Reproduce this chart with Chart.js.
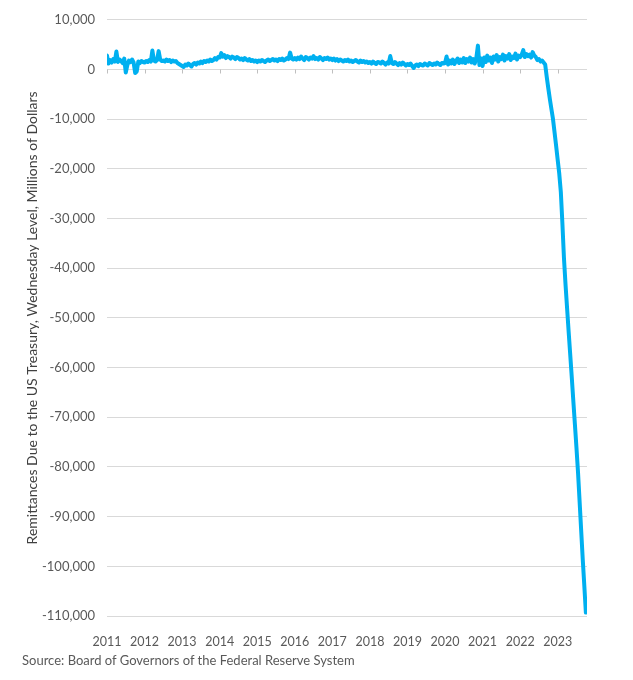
<!DOCTYPE html>
<html>
<head>
<meta charset="utf-8">
<script src="https://cdn.jsdelivr.net/npm/chart.js"></script>
<style>
  body { margin: 0; background: #fff; }
  #wrap { position: relative; width: 633px; height: 680px; }
  #source {
    position: absolute; left: 22px; top: 652px;
    font: 13px Lato, "Open Sans", sans-serif; color: #595959;
  }
</style>
</head>
<body>
<div id="wrap">
  <canvas id="remittancesChart" width="633" height="680"></canvas>
  <div id="source">Source: Board of Governors of the Federal Reserve System</div>
</div>
<script>
// Remittances due to the US Treasury, millions of dollars
// twice a month starting January 2011
const startYear = 2011;
const pointsPerYear = 24;

const values2011 = [2800, 1200, 1900, 1400, 2100, 1600, 3600, 1500, 2000, 1700, 1300, 2200, -600, 900, 1800, 1500, 2000, 1400, -700, -400, 1600, 1300, 1700, 1500];
const values2012 = [1400, 1700, 1500, 1900, 1600, 3800, 1800, 1600, 1900, 3700, 2000, 1700, 1800, 1600, 2000, 1700, 1900, 1500, 1800, 1600, 1700, 1300, 1100, 900];
const values2013 = [700, 500, 1000, 800, 1200, 900, 600, 1100, 1300, 1000, 1400, 1200, 1600, 1300, 1700, 1500, 1800, 1600, 2000, 1700, 1900, 2300, 2000, 2500];
const values2014 = [2400, 3300, 2600, 2900, 2300, 2700, 2500, 2200, 2600, 2400, 2100, 2500, 2300, 2000, 2200, 1900, 2300, 2000, 1800, 2100, 1700, 1900, 1600, 1800];
const values2015 = [1500, 1800, 1600, 1900, 1700, 1500, 1800, 2000, 1700, 1900, 2100, 1800, 2000, 1700, 2100, 1900, 2200, 1800, 2000, 2300, 2100, 3400, 2200, 2000];
const values2016 = [2300, 2000, 2400, 2100, 2600, 2200, 1900, 2500, 2300, 2000, 2400, 2200, 2700, 2100, 2300, 2000, 2500, 2200, 1900, 2300, 2100, 2400, 2000, 2200];
const values2017 = [1900, 2200, 1800, 2100, 1700, 2000, 1800, 1600, 1900, 1700, 2000, 1600, 1800, 1500, 1700, 1900, 1600, 1400, 1800, 1500, 1700, 1400, 1600, 1300];
const values2018 = [1500, 1200, 1600, 1300, 1100, 1500, 1400, 1200, 1600, 1300, 1000, 1400, 1200, 2700, 1300, 1100, 1500, 1200, 900, 1300, 1000, 1400, 1100, 800];
const values2019 = [1100, 900, 1200, 700, 300, 800, 1000, 700, 1100, 900, 800, 1200, 1000, 800, 1300, 1100, 900, 1200, 1000, 1400, 1100, 900, 1300, 1200];
const values2020 = [1300, 2600, 1000, 1800, 1200, 2000, 1100, 1700, 2200, 1300, 2000, 1400, 2300, 1300, 2100, 1600, 2400, 1400, 2100, 1200, 2300, 4800, 900, 2200];
const values2021 = [700, 2400, 1500, 2800, 1800, 2400, 1300, 2600, 2000, 2900, 1600, 2500, 2100, 3000, 1800, 2700, 2200, 3100, 1900, 2600, 2300, 3200, 2000, 2800];
const values2022 = [2500, 3000, 3900, 2500, 3100, 2700, 3000, 2400, 3500, 2800, 2500, 1900, 2100, 1600, 1800, 1400, 1000, -1500, -3800, -6000, -8000, -10000, -12700, -15400];
const values2023 = [-18200, -21000, -24700, -31000, -38000, -43300, -48100, -52800, -57400, -62000, -66800, -71500, -76200, -81200, -87000, -92800, -98600, -103900, -109300];

const yearTicks = [2011, 2012, 2013, 2014, 2015, 2016, 2017, 2018, 2019, 2020, 2021, 2022, 2023];
const yMin = -110000;
const yMax = 10000;
const yStep = 10000;
const xEnd = 2023.78;

const allValues = [].concat(values2011, values2012, values2013, values2014, values2015, values2016,
  values2017, values2018, values2019, values2020, values2021, values2022, values2023);
const points = allValues.map((v, i) => ({ x: startYear + i / pointsPerYear, y: v }));

const labelColor = '#595959';
const gridColor = '#d9d9d9';
const fontFamily = 'Lato, "Open Sans", sans-serif';

// small tick marks hanging under the zero line, like the Excel axis
const zeroTicks = {
  id: 'zeroTicks',
  beforeDatasetsDraw(chart) {
    const { ctx, scales: { x, y } } = chart;
    const y0 = Math.round(y.getPixelForValue(0)) + 0.5;
    ctx.save();
    ctx.strokeStyle = '#bfbfbf';
    ctx.lineWidth = 1;
    yearTicks.forEach(yr => {
      const px = Math.round(x.getPixelForValue(yr)) + 0.5;
      ctx.beginPath();
      ctx.moveTo(px, y0);
      ctx.lineTo(px, y0 + 4);
      ctx.stroke();
    });
    ctx.restore();
  }
};

new Chart(document.getElementById('remittancesChart'), {
  type: 'line',
  data: {
    datasets: [{
      data: points,
      borderColor: '#00b0f0',
      borderWidth: 4,
      borderJoinStyle: 'round',
      borderCapStyle: 'round',
      pointRadius: 0,
      tension: 0,
      fill: false
    }]
  },
  options: {
    responsive: false,
    animation: false,
    devicePixelRatio: 1,
    layout: { padding: { top: 19, right: 46, bottom: 34, left: 0 } },
    plugins: {
      legend: { display: false },
      tooltip: { enabled: false }
    },
    scales: {
      x: {
        type: 'linear',
        min: startYear,
        max: xEnd,
        afterBuildTicks: s => { s.ticks = yearTicks.map(value => ({ value })); },
        afterFit: s => { s.height = 30; },
        grid: { display: false },
        border: { display: false },
        ticks: {
          autoSkip: false,
          maxRotation: 0,
          padding: 10,
          color: labelColor,
          font: { family: fontFamily, size: 12.5 },
          callback: v => String(v)
        }
      },
      y: {
        min: yMin,
        max: yMax,
        afterFit: s => { s.width = 107; },
        grid: { color: gridColor, drawTicks: false, lineWidth: 1 },
        border: { display: false },
        ticks: {
          stepSize: yStep,
          padding: 12,
          color: labelColor,
          font: { family: fontFamily, size: 13 },
          callback: v => v.toLocaleString('en-US')
        },
        title: {
          display: true,
          text: 'Remittances Due to the US Treasury, Wednesday Level, Millions of Dollars',
          color: '#404040',
          font: { family: fontFamily, size: 14 },
          padding: { top: 24, bottom: 0 }
        }
      }
    }
  },
  plugins: [zeroTicks]
});
</script>
</body>
</html>
